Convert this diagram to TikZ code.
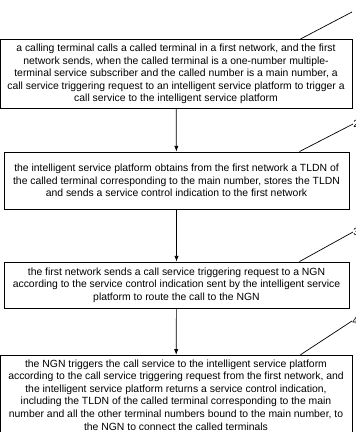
\documentclass[tikz,border=0pt]{standalone}
\usepackage{fontspec}
\setmainfont{Liberation Sans}
\usetikzlibrary{arrows.meta}

\begin{document}
\begin{tikzpicture}[x=0.025cm, y=-0.025cm,
  stepbox/.style={draw, line width=0.6pt, align=center, inner xsep=1pt,
    font=\fontsize{7.4}{8.9}\selectfont},
  flow/.style={-{Latex[length=4pt,width=3pt]}, line width=0.5pt},
  leader/.style={line width=0.5pt},
  steplabel/.style={anchor=west, inner sep=0pt, font=\fontsize{7.4}{8.9}\selectfont}]
\useasboundingbox (0,0) rectangle (355,432);

% steps
\node[stepbox, minimum width=8.8cm, minimum height=1.6cm] (b1) at (176,74)
  {a calling terminal calls a called terminal in a first network, and the first\\
   network sends, when the called terminal is a one-number multiple-\\
   terminal service subscriber and the called number is a main number, a\\
   call service triggering request to an intelligent service platform to trigger a\\
   call service to the intelligent service platform};
\node[stepbox, minimum width=8.625cm, minimum height=1.425cm] (b2) at (176.5,180.5)
  {the intelligent service platform obtains from the first network a TLDN of\\
   the called terminal corresponding to the main number, stores the TLDN\\
   and sends a service control indication to the first network};
\node[stepbox, minimum width=8.625cm, minimum height=1.15cm] (b3) at (176.5,285)
  {the first network sends a call service triggering request to a NGN\\
   according to the service control indication sent by the intelligent service\\
   platform to route the call to the NGN};
\node[stepbox, minimum width=8.8cm, minimum height=1.75cm] (b4) at (176,395)
  {the NGN triggers the call service to the intelligent service platform\\
   according to the call service triggering request from the first network, and\\
   the intelligent service platform returns a service control indication,\\
   including the TLDN of the called terminal corresponding to the main\\
   number and all the other terminal numbers bound to the main number, to\\
   the NGN to connect the called terminals};

\draw[flow] (b1) -- (b2);
\draw[flow] (b2) -- (b3);
\draw[flow] (b3) -- (b4);

% step numbers (cut by the page edge)
\coordinate (l1) at (352,12);
\node[steplabel] (l2) at (353,124) {2};
\node[steplabel] (l3) at (353,232) {3};
\node[steplabel] (l4) at (352,321) {4};
\draw[leader] ([xshift=-1.3cm]b1.north east) -- (l1);
\draw[leader] ([xshift=-1.25cm]b2.north east) -- (l2.west);
\draw[leader] ([xshift=-1.25cm]b3.north east) -- (l3.west);
\draw[leader] ([xshift=-1.3cm]b4.north east) -- (l4.west);
\end{tikzpicture}
\end{document}
